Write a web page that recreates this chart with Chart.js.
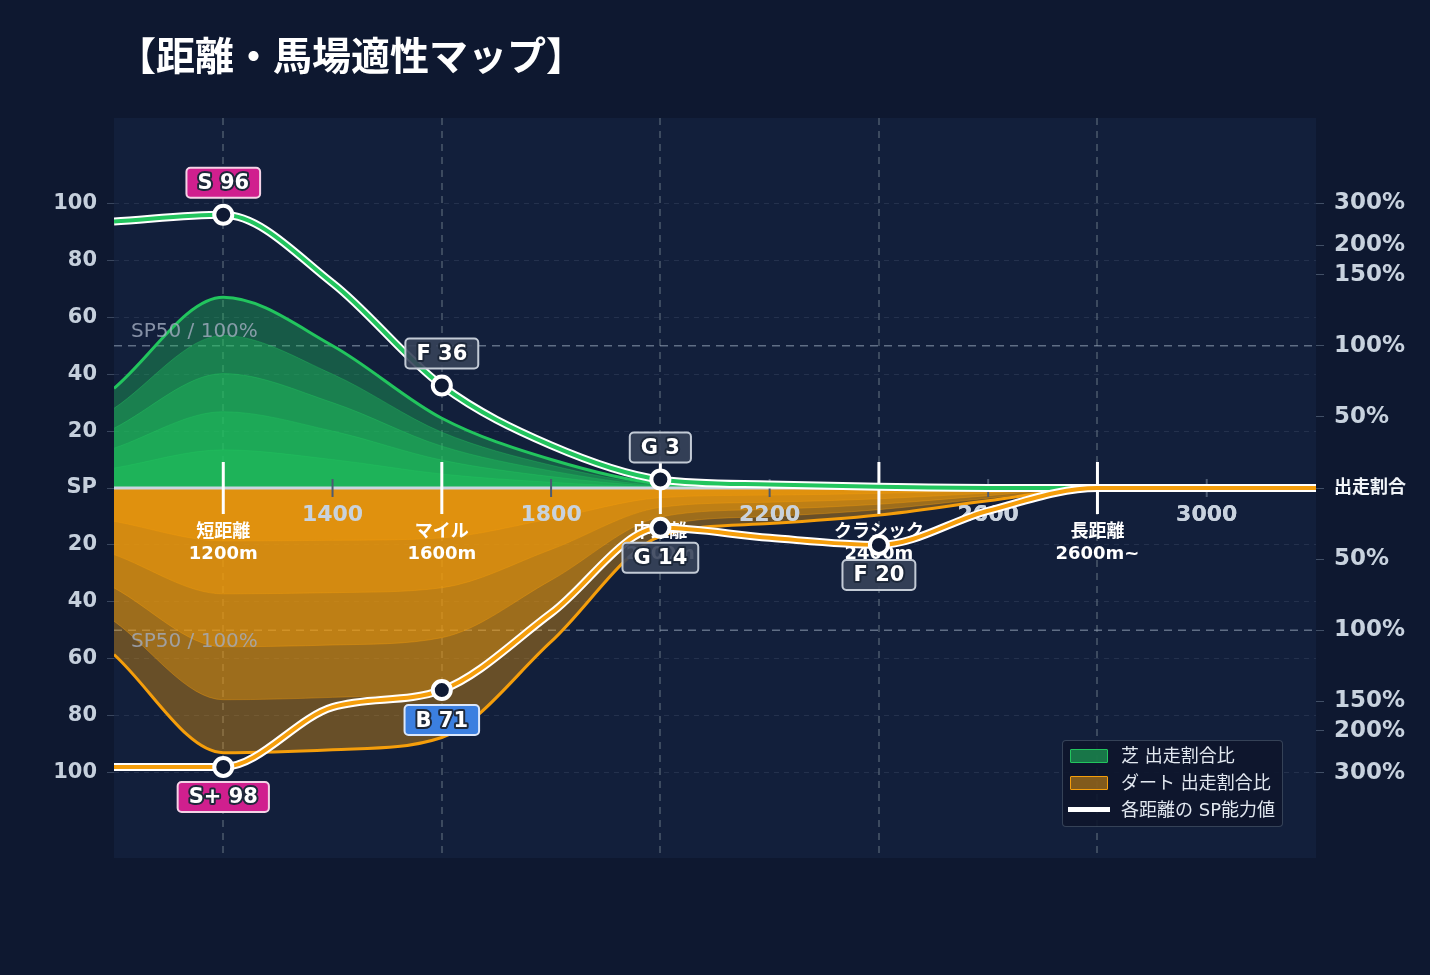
<!DOCTYPE html>
<html lang="ja">
<head>
<meta charset="utf-8">
<title>距離・馬場適性マップ</title>
<script src="https://cdn.jsdelivr.net/npm/chart.js@4.4.1/dist/chart.umd.min.js"></script>
<style>
  html, body { margin: 0; padding: 0; background: #0e1830; }
  #wrap { position: relative; width: 1430px; height: 975px; overflow: hidden; }
  #title {
    position: absolute; left: 117px; top: 33px; margin: 0;
    font: 700 39px/40px "Noto Sans CJK JP", sans-serif; color: #ffffff;
  }
  #legend {
    position: absolute; left: 1062px; top: 740px; width: 219px; height: 85px;
    background: rgba(14, 22, 44, 0.92); border: 1px solid rgba(71, 85, 105, 0.7);
    border-radius: 4px; box-sizing: content-box;
    font: 18px "DejaVu Sans", "Noto Sans CJK JP", sans-serif; color: #e2e8f0;
  }
  #legend .row { position: absolute; left: 0; height: 27px; line-height: 27px; white-space: nowrap; }
  #legend .sw { position: absolute; top: 7px; width: 36px; height: 12px; border-radius: 1px; }
  #legend .txt { position: absolute; left: 58px; top: 0; }
</style>
</head>
<body>
<div id="wrap">
  <canvas id="mapChart" width="1430" height="975"></canvas>
  <div id="title">【距離・馬場適性マップ】</div>
  <div id="legend">
    <div class="row" style="top:1px"><span class="sw" style="left:7px;background:rgba(34,197,94,0.55);border:1.5px solid #22c55e"></span><span class="txt">芝 出走割合比</span></div>
    <div class="row" style="top:28px"><span class="sw" style="left:7px;background:rgba(245,158,11,0.5);border:1.5px solid #f59e0b"></span><span class="txt">ダート 出走割合比</span></div>
    <div class="row" style="top:55px"><span class="sw" style="left:5px;top:11px;width:42px;height:5px;background:#ffffff;border-radius:0"></span><span class="txt">各距離の SP能力値</span></div>
  </div>
</div>
<script>
// 距離ごとの値 (200m刻み)
const distances = [1000, 1200, 1400, 1600, 1800, 2000, 2200, 2400, 2600, 2800, 3000, 3200];
// SP能力値
const turfSP = [93.6, 96, 72, 36, 15, 3, 1.2, 0.4, 0, 0, 0, 0];
const dirtSP = [98, 98, 77, 71, 44, 14, 17.5, 20, 8, 0, 0, 0];
// 評価ランク (空文字は表示なし)
const turfGrades = ['', 'S', '', 'F', '', 'G', '', '', '', '', '', ''];
const dirtGrades = ['', 'S+', '', 'B', '', 'G', '', 'F', '', '', '', ''];
// 出走割合比 (%)
const turfShare = [70, 134, 100, 49, 20, 3, 0.6, 0, 0, 0, 0, 0];
const dirtShare = [117, 247, 240, 213, 108, 34, 25, 19, 9, 0, 0, 0];

// 距離カテゴリ
const categoryDistances = [1200, 1600, 2000, 2400, 2800];
const categoryNames = ['短距離', 'マイル', '中距離', 'クラシック', '長距離'];
const categoryRanges = ['1200m', '1600m', '2000m', '2400m', '2600m~'];

// 目盛り
const distanceTicks = [1400, 1800, 2200, 2600, 3000];
const spTicks = [-100, -80, -60, -40, -20, 0, 20, 40, 60, 80, 100];
const ratioTicks = [50, 100, 150, 200, 300];

const FONT = '"DejaVu Sans", "Noto Sans CJK JP", sans-serif';
const layerSteps = [1, 0.8, 0.6, 0.4, 0.2];

// 割合(%) → 左軸の位置 (100% = SP50, 150%以上は圧縮)
function ratioToY(p) {
    return p <= 150 ? p / 2 : 75 + 25 * Math.log2(p / 150);
}

// 右軸の目盛り (下から上へ)
const ratioAxis = [];
ratioTicks.slice().reverse().forEach(p => ratioAxis.push({ value: -ratioToY(p), label: p + '%' }));
ratioAxis.push({ value: 0, label: '出走割合' });
ratioTicks.forEach(p => ratioAxis.push({ value: ratioToY(p), label: p + '%' }));

function points(values, sign) {
    return distances.map((d, i) => ({ x: d, y: sign * values[i] }));
}

// 出走割合の帯 (外側ほど薄い)
function shareLayers(share, sign, rgb, alpha, baseOrder, last) {
    return layerSteps.map((k, j) => ({
        label: 'share',
        data: distances.map((d, i) => ({ x: d, y: sign * ratioToY(share[i]) * k })),
        fill: 'origin',
        backgroundColor: `rgba(${rgb},${alpha})`,
        borderColor: j === 0 ? `rgb(${rgb})` : `rgba(${rgb},0.35)`,
        borderWidth: j === 0 ? 3 : 1,
        pointRadius: 0,
        cubicInterpolationMode: 'monotone',
        order: baseOrder - j,
        lastArea: last && j === layerSteps.length - 1
    }));
}

function spLines(values, sign, grades, color, baseOrder) {
    return [{
        label: 'outline',
        data: points(values, sign),
        borderColor: '#ffffff',
        borderWidth: 8,
        pointRadius: 0,
        fill: false,
        cubicInterpolationMode: 'monotone',
        order: baseOrder + 1
    }, {
        label: 'sp',
        data: points(values, sign),
        borderColor: color,
        borderWidth: 4,
        fill: false,
        cubicInterpolationMode: 'monotone',
        pointRadius: ctx => grades[ctx.dataIndex] ? 9 : 0,
        pointBackgroundColor: '#0f1a33',
        pointBorderColor: '#ffffff',
        pointBorderWidth: 4,
        grades: grades,
        values: values,
        side: sign,
        order: baseOrder
    }];
}

function badgeStyle(grade) {
    if (grade.startsWith('S')) return { fill: '#d01f8e', border: '#f3d3e6' };
    if (grade.startsWith('A') || grade.startsWith('B')) return { fill: '#3b7fe0', border: '#dbe7fb' };
    return { fill: 'rgba(55,67,90,0.9)', border: '#c3cbd6' };
}

function drawBadge(ctx, cx, cy, text, grade) {
    ctx.font = 'bold 21px ' + FONT;
    const w = ctx.measureText(text).width + 22;
    const h = 30;
    const st = badgeStyle(grade);
    ctx.beginPath();
    ctx.roundRect(cx - w / 2, cy - h / 2, w, h, 4);
    ctx.fillStyle = st.fill;
    ctx.fill();
    ctx.lineWidth = 2;
    ctx.strokeStyle = st.border;
    ctx.stroke();
    ctx.textAlign = 'center';
    ctx.textBaseline = 'middle';
    ctx.lineJoin = 'round';
    ctx.lineWidth = 4;
    ctx.strokeStyle = '#1e293b';
    ctx.strokeText(text, cx, cy + 1);
    ctx.fillStyle = '#ffffff';
    ctx.fillText(text, cx, cy + 1);
}

// 軸まわりの装飾 (帯の上、SP線の下)
function drawAxisDecor(chart) {
    const { ctx, chartArea: a, scales } = chart;
    const y0 = scales.y.getPixelForValue(0);
    ctx.save();
    ctx.strokeStyle = '#cbd5e1';
    ctx.lineWidth = 3;
    ctx.beginPath();
    ctx.moveTo(a.left, y0);
    ctx.lineTo(a.right, y0);
    ctx.stroke();

    ctx.strokeStyle = '#4b5a72';
    ctx.lineWidth = 2;
    distanceTicks.forEach(d => {
        const px = scales.x.getPixelForValue(d);
        ctx.beginPath();
        ctx.moveTo(px, y0 - 9);
        ctx.lineTo(px, y0 + 9);
        ctx.stroke();
    });
    ctx.restore();

    scales.x.drawLabels(a);

    ctx.save();
    ctx.strokeStyle = '#ffffff';
    ctx.lineWidth = 3;
    ctx.fillStyle = '#ffffff';
    ctx.textAlign = 'center';
    ctx.textBaseline = 'middle';
    categoryDistances.forEach((d, i) => {
        const px = scales.x.getPixelForValue(d);
        ctx.beginPath();
        ctx.moveTo(px, y0 - 26);
        ctx.lineTo(px, y0 + 26);
        ctx.stroke();
        ctx.font = 'bold 18px ' + FONT;
        ctx.fillText(categoryNames[i], px, y0 + 44);
        ctx.fillText(categoryRanges[i], px, y0 + 66);
    });
    ctx.restore();
}

const decorPlugin = {
    id: 'decor',
    beforeDraw(chart) {
        const { ctx, chartArea: a } = chart;
        ctx.save();
        ctx.fillStyle = '#121f3b';
        ctx.fillRect(a.left, a.top, a.right - a.left, a.bottom - a.top);
        ctx.restore();
    },
    beforeDatasetsDraw(chart) {
        const { ctx, chartArea: a, scales } = chart;
        ctx.save();
        ctx.setLineDash([8, 6]);
        ctx.lineWidth = 1.5;
        ctx.strokeStyle = 'rgba(148,163,184,0.6)';
        [50, -50].forEach(v => {
            const py = scales.y.getPixelForValue(v);
            ctx.beginPath();
            ctx.moveTo(a.left, py);
            ctx.lineTo(a.right, py);
            ctx.stroke();
        });
        ctx.restore();
    },
    afterDatasetDraw(chart, args) {
        if (chart.data.datasets[args.index].lastArea) drawAxisDecor(chart);
    },
    afterDatasetsDraw(chart) {
        const { ctx, chartArea: a, scales } = chart;
        ctx.save();
        ctx.font = '20px ' + FONT;
        ctx.fillStyle = 'rgba(163,173,192,0.8)';
        ctx.textAlign = 'left';
        ctx.textBaseline = 'middle';
        ctx.fillText('SP50 / 100%', a.left + 17, scales.y.getPixelForValue(50) - 14);
        ctx.fillText('SP50 / 100%', a.left + 17, scales.y.getPixelForValue(-50) + 11);

        chart.data.datasets.forEach((ds, di) => {
            if (ds.label !== 'sp') return;
            const meta = chart.getDatasetMeta(di);
            ds.grades.forEach((g, i) => {
                if (!g) return;
                const pt = meta.data[i];
                const cy = ds.side > 0 ? pt.y - 32 : pt.y + 30;
                drawBadge(ctx, pt.x, cy, g + ' ' + Math.round(ds.values[i]), g);
            });
        });
        ctx.restore();
    }
};

const datasets = [
    ...spLines(dirtSP, -1, dirtGrades, '#f59e0b', 0),
    ...spLines(turfSP, 1, turfGrades, '#22c55e', 2),
    ...shareLayers(dirtShare, -1, '245,158,11', 0.38, 24, true),
    ...shareLayers(turfShare, 1, '34,197,94', 0.36, 29, false)
];

new Chart(document.getElementById('mapChart'), {
    type: 'line',
    data: { datasets },
    plugins: [decorPlugin],
    options: {
        responsive: false,
        animation: false,
        layout: { padding: { top: 118, bottom: 117, left: 0, right: 0 } },
        plugins: {
            legend: { display: false },
            tooltip: { enabled: false }
        },
        scales: {
            x: {
                type: 'linear', min: 1000, max: 3200,
                position: { y: 0 },
                afterBuildTicks: s => { s.ticks = distanceTicks.map(v => ({ value: v })); },
                grid: { display: false, drawTicks: false },
                border: { display: false },
                ticks: {
                    color: '#c8d2de', font: { family: FONT, size: 22, weight: 'bold' },
                    padding: 14, maxRotation: 0, autoSkip: false,
                    callback: v => String(v)
                }
            },
            xc: {
                type: 'linear', axis: 'x', min: 1000, max: 3200,
                position: { y: 0 },
                afterBuildTicks: s => { s.ticks = categoryDistances.map(v => ({ value: v })); },
                grid: { color: 'rgba(71,85,105,0.8)', lineWidth: 2, drawTicks: false },
                border: { display: false, dash: [7, 6] },
                ticks: { display: false }
            },
            y: {
                min: -130, max: 130, position: 'left',
                afterBuildTicks: s => { s.ticks = spTicks.map(v => ({ value: v })); },
                afterFit: s => { s.width = 114; },
                grid: { color: 'rgba(100,116,139,0.22)', lineWidth: 1, tickLength: 7, tickColor: 'rgba(100,116,139,0.5)' },
                border: { display: false, dash: [5, 5] },
                ticks: {
                    color: '#c5cfdc', font: { family: FONT, size: 21, weight: 'bold' }, padding: 10, autoSkip: false,
                    callback: v => v === 0 ? 'SP' : String(Math.abs(v))
                }
            },
            y2: {
                min: -130, max: 130, position: 'right',
                afterBuildTicks: s => { s.ticks = ratioAxis.map(t => ({ value: t.value })); },
                afterFit: s => { s.width = 114; },
                grid: { drawOnChartArea: false, tickLength: 8, tickColor: 'rgba(100,116,139,0.6)' },
                border: { display: false },
                ticks: {
                    autoSkip: false, padding: 10,
                    callback: (v, i) => ratioAxis[i].label,
                    color: ctx => ctx.tick && ctx.tick.value === 0 ? '#f1f5f9' : '#c8d2de',
                    font: ctx => ctx.tick && ctx.tick.value === 0
                        ? { family: FONT, size: 18, weight: 'bold' }
                        : { family: FONT, size: 23, weight: 'bold' }
                }
            }
        }
    }
});
</script>
</body>
</html>
